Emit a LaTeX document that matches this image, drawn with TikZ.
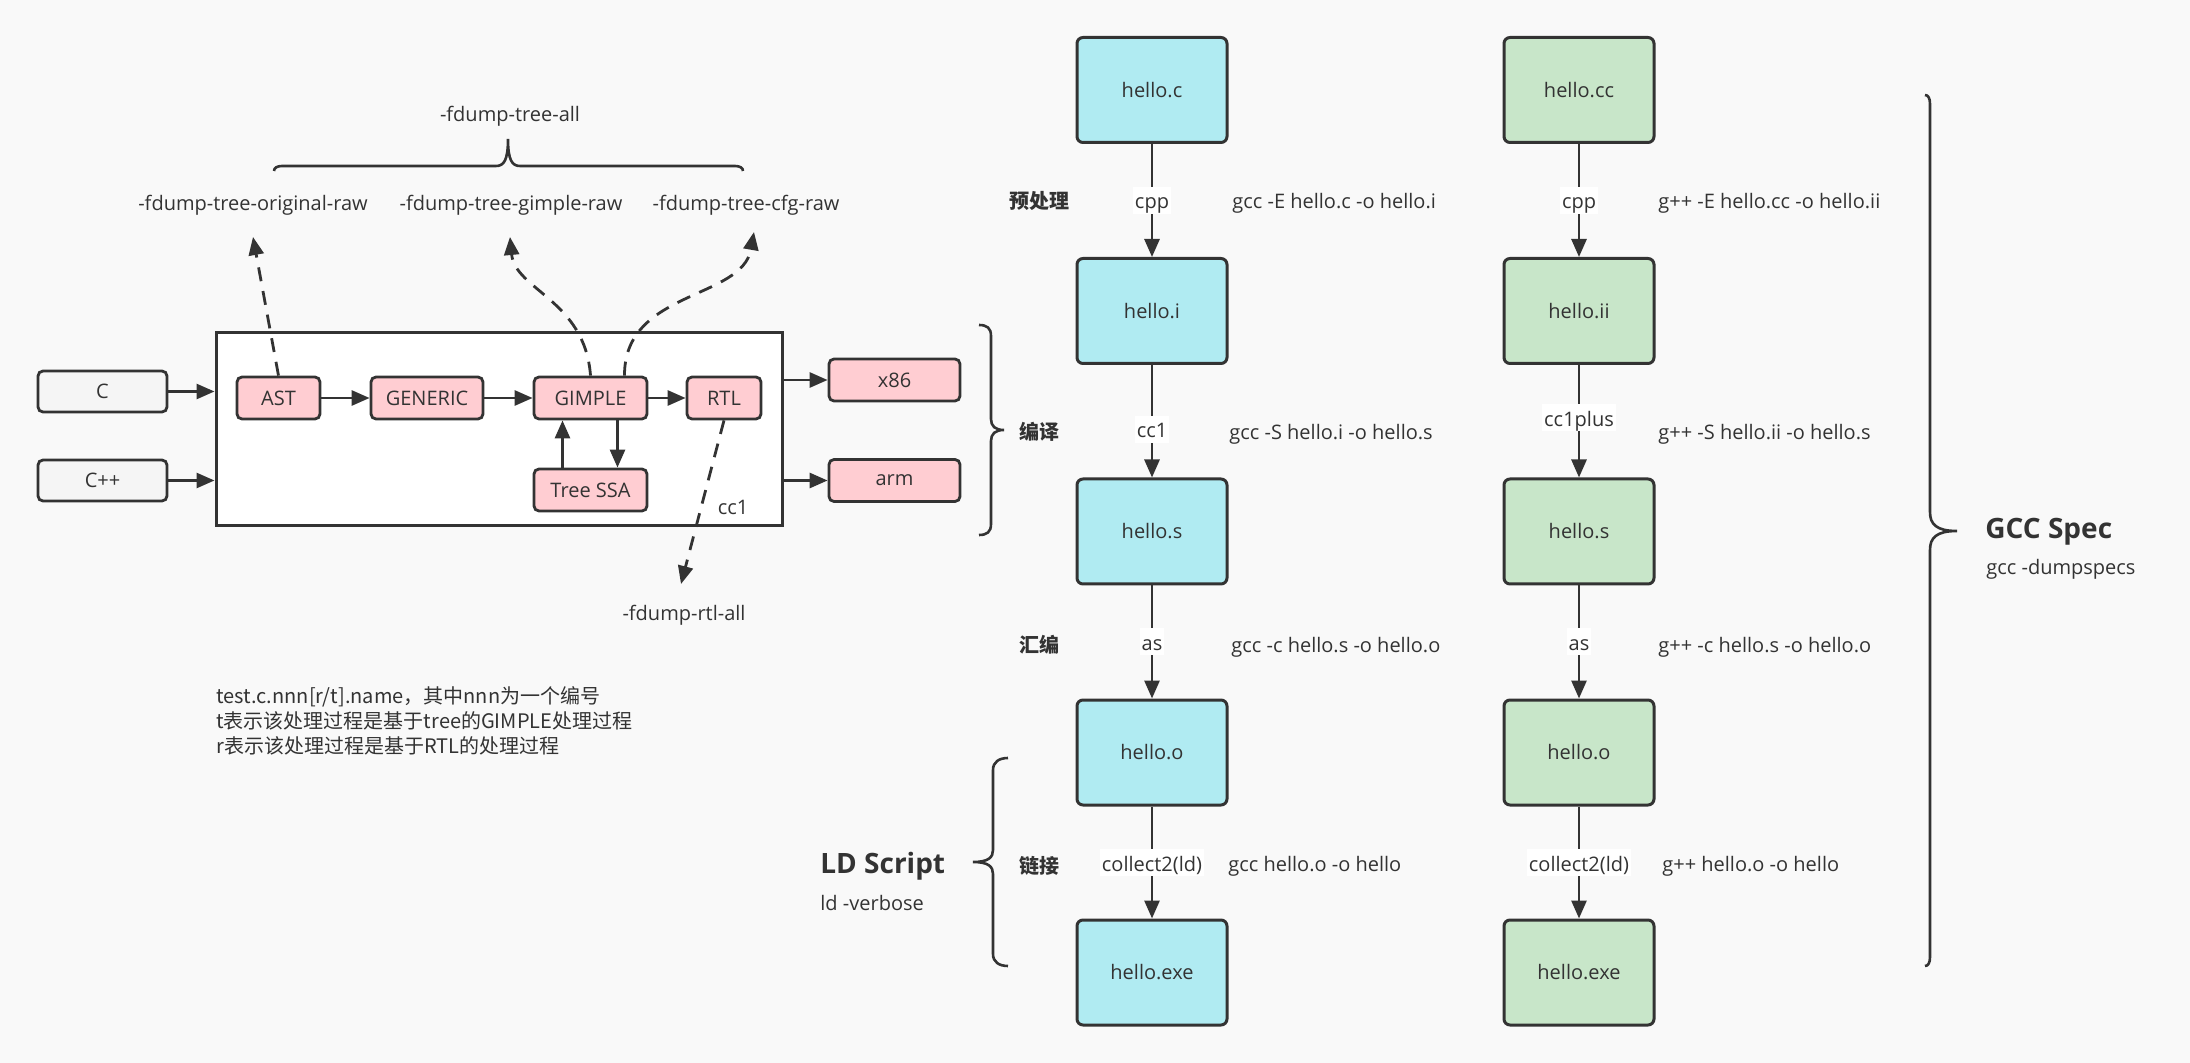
\documentclass[tikz,border=0pt]{standalone}
\usepackage{fontspec}
\setmainfont{Open Sans}
\newfontfamily\cjk{Noto Sans CJK SC}
\usetikzlibrary{arrows.meta,calc}
\definecolor{bg}{HTML}{F9F9F9}
\definecolor{dk}{HTML}{333333}
\definecolor{cyanf}{HTML}{B0EBF2}
\definecolor{greenf}{HTML}{C8E6C9}
\definecolor{pinkf}{HTML}{FFCDD2}
\definecolor{grayf}{HTML}{F5F5F5}
\begin{document}
\begin{tikzpicture}[x=0.5pt,y=-0.5pt, font=\fontsize{10}{12}\selectfont, text=dk,
  arr/.style={draw=dk, line width=1.4pt, -{Triangle[length=9pt,width=7.5pt]}},
  dasharr/.style={arr, dash pattern=on 7pt off 5pt},
  brc/.style={draw=dk, line width=1.3pt},
  filebox/.style={draw=dk, line width=1.5pt, rounded corners=3pt, minimum width=75pt, minimum height=52.5pt, inner sep=0pt},
  stg/.style={draw=dk, line width=1.4pt, rounded corners=2.5pt, fill=pinkf, minimum height=21pt, inner sep=0pt},
  langbox/.style={draw=dk, line width=1.4pt, rounded corners=2.5pt, fill=grayf, minimum width=64.5pt, minimum height=20.5pt, inner sep=0pt},
  lbl/.style={fill=white, inner sep=1pt, text height=10pt, text depth=1.5pt},
  cmd/.style={anchor=west, inner sep=0pt, text height=10pt, text depth=1.5pt},
  stglbl/.style={inner sep=0pt, font=\cjk\bfseries\fontsize{10}{12}\selectfont},
  plain/.style={inner sep=0pt, text height=10pt, text depth=1.5pt}
]
\fill[bg] (0,0) rectangle (2190,1063);
\useasboundingbox (0,0) rectangle (2190,1063);

% ---------- left: cc1 internals ----------
\node[plain] (all) at (510,113) {-fdump-tree-all};
\node[plain] (orig) at (253,202) {-fdump-tree-original-raw};
\node[plain] (gimraw) at (511,202) {-fdump-tree-gimple-raw};
\node[plain] (cfgraw) at (746,202) {-fdump-tree-cfg-raw};

\draw[brc] (274,171) .. controls (274,168) and (277,166) .. (282,166) -- (496,166)
  .. controls (504,166) and (508,160) .. (508,139)
  .. controls (508,160) and (512,166) .. (520,166) -- (735,166)
  .. controls (740,166) and (743,168) .. (743,171);

\node[draw=dk, line width=1.5pt, fill=white, minimum width=283pt, minimum height=96.5pt, inner sep=0pt] (cc1box) at (499,429.5) {};
\node[plain] (cc1lbl) at (733,506) {cc1};

\node[langbox] (c) at (102.5,391.5) {C};
\node[langbox] (cpp) at (102.5,480.5) {C++};

\node[stg, minimum width=41.5pt] (ast) at (278.5,398) {AST};
\node[stg, minimum width=56pt] (generic) at (427,398) {GENERIC};
\node[stg, minimum width=56.5pt] (gimple) at (590.5,398) {GIMPLE};
\node[stg, minimum width=37pt] (rtl) at (724,398) {RTL};
\node[stg, minimum width=56.5pt] (tssa) at (590.5,490) {Tree SSA};
\node[stg, minimum width=65.5pt] (x86) at (894.5,380) {x86};
\node[stg, minimum width=65.5pt] (arm) at (894.5,480.5) {arm};

\draw[arr] (c.east) -- (c.east -| cc1box.west);
\draw[arr] (cpp.east) -- (cpp.east -| cc1box.west);
\draw[arr] (ast.east) -- (generic.west);
\draw[arr] (generic.east) -- (gimple.west);
\draw[arr] (gimple.east) -- (rtl.west);
\draw[arr] (x86.west -| cc1box.east) -- (x86.west);
\draw[arr] (arm.west -| cc1box.east) -- (arm.west);
\draw[arr] ($(tssa.north)+(-28,0)$) -- ($(gimple.south)+(-28,0)$);
\draw[arr] ($(gimple.south)+(27,0)$) -- ($(tssa.north)+(27,0)$);

\coordinate (origtip) at (253,237);
\coordinate (gimtip) at (510,237);
\coordinate (cfgtip) at (754,232);
\coordinate (rtltip) at (681,584);
\draw[dasharr] (ast.north) -- (origtip);
\draw[dasharr] (gimple.north) .. controls (585,300) and (515,290) .. (gimtip);
\draw[dasharr] ($(gimple.north)+(34,0)$) .. controls (624,290) and (742,300) .. (cfgtip);
\draw[dasharr] (rtl.south) -- (rtltip);
\node[plain] (rtlall) at (684,612) {-fdump-rtl-all};

\node[anchor=north west, align=left, inner sep=0pt, font=\cjk\fontsize{10}{12.5}\selectfont] (note) at (216,686)
  {test.c.nnn[r/t].name，其中nnn为一个编号\\t表示该处理过程是基于tree的GIMPLE处理过程\\r表示该处理过程是基于RTL的处理过程};

% ---------- right: pipelines ----------
\node[filebox, fill=cyanf] (bc) at (1152,90) {hello.c};
\node[filebox, fill=cyanf] (bi) at (1152,311) {hello.i};
\node[filebox, fill=cyanf] (bs) at (1152,531.5) {hello.s};
\node[filebox, fill=cyanf] (bo) at (1152,752.5) {hello.o};
\node[filebox, fill=cyanf] (be) at (1152,972.5) {hello.exe};

\node[filebox, fill=greenf] (gc) at (1579,90) {hello.cc};
\node[filebox, fill=greenf] (gi) at (1579,311) {hello.ii};
\node[filebox, fill=greenf] (gs) at (1579,531.5) {hello.s};
\node[filebox, fill=greenf] (go) at (1579,752.5) {hello.o};
\node[filebox, fill=greenf] (ge) at (1579,972.5) {hello.exe};

\draw[arr] (bc) -- node[lbl] {cpp} (bi);
\draw[arr] (bi) -- node[lbl, pos=0.57] {cc1} (bs);
\draw[arr] (bs) -- node[lbl] {as} (bo);
\draw[arr] (bo) -- node[lbl] {collect2(ld)} (be);

\draw[arr] (gc) -- node[lbl] {cpp} (gi);
\draw[arr] (gi) -- node[lbl, pos=0.47] {cc1plus} (gs);
\draw[arr] (gs) -- node[lbl] {as} (go);
\draw[arr] (go) -- node[lbl] {collect2(ld)} (ge);

\node[stglbl] (s1) at (1039,201) {预处理};
\node[stglbl] (s2) at (1039,432) {编译};
\node[stglbl] (s3) at (1039,645) {汇编};
\node[stglbl] (s4) at (1039,866) {链接};

\node[cmd] (bcmd1) at (1232,200) {gcc -E hello.c -o hello.i};
\node[cmd] (bcmd2) at (1229,431) {gcc -S hello.i -o hello.s};
\node[cmd] (bcmd3) at (1231,644) {gcc -c hello.s -o hello.o};
\node[cmd] (bcmd4) at (1228,863) {gcc hello.o -o hello};

\node[cmd] (gcmd1) at (1658,200) {g++ -E hello.cc -o hello.ii};
\node[cmd] (gcmd2) at (1658,431) {g++ -S hello.ii -o hello.s};
\node[cmd] (gcmd3) at (1658,644) {g++ -c hello.s -o hello.o};
\node[cmd] (gcmd4) at (1662,863) {g++ hello.o -o hello};

% braces
\draw[brc] (979,325) .. controls (987,325) and (991,328) .. (991,336) -- (991,419)
  .. controls (991,426) and (995,430) .. (1004,430)
  .. controls (995,430) and (991,434) .. (991,441) -- (991,524)
  .. controls (991,532) and (987,535) .. (979,535);

\draw[brc] (1008,758) .. controls (999,758) and (993,762) .. (993,770) -- (993,850)
  .. controls (993,857) and (989,862) .. (973,862)
  .. controls (989,862) and (993,867) .. (993,874) -- (993,954)
  .. controls (993,962) and (999,966) .. (1008,966);

\draw[brc] (1925,95) .. controls (1928,95) and (1930,98) .. (1930,104) -- (1930,512)
  .. controls (1930,524) and (1936,531) .. (1957,531)
  .. controls (1936,531) and (1930,538) .. (1930,550) -- (1930,957)
  .. controls (1930,963) and (1928,966) .. (1925,966);

\node[anchor=west, inner sep=0pt, font=\bfseries\fontsize{14}{16}\selectfont] (ld) at (820,866) {LD Script};
\node[cmd] (ldv) at (820,902) {ld -verbose};

\node[anchor=west, inner sep=0pt, font=\bfseries\fontsize{14}{16}\selectfont] (spec) at (1985,532) {GCC Spec};
\node[cmd] (specv) at (1986,566) {gcc -dumpspecs};
\end{tikzpicture}
\end{document}
